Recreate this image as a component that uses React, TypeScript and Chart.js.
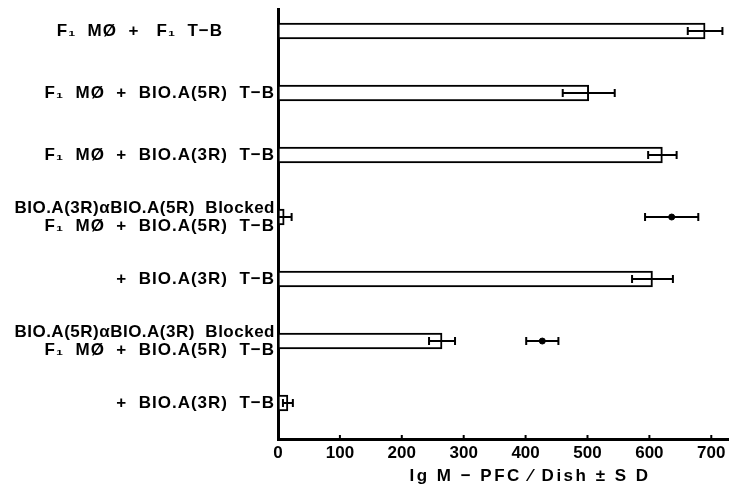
import React, { useEffect, useRef } from "react";
import { Chart, registerables } from "chart.js";
Chart.register(...registerables);

const rowLabels: string[][] = [
  ["F₁  MØ  +   F₁  T−B"],
  ["F₁  MØ  +  BIO.A(5R)  T−B"],
  ["F₁  MØ  +  BIO.A(3R)  T−B"],
  ["BIO.A(3R)αBIO.A(5R)  Blocked", "F₁  MØ  +  BIO.A(5R)  T−B"],
  ["+  BIO.A(3R)  T−B"],
  ["BIO.A(5R)αBIO.A(3R)  Blocked", "F₁  MØ  +  BIO.A(5R)  T−B"],
  ["+  BIO.A(3R)  T−B"],
];
const pfcMeans = [690, 502, 621, 10, 605, 265, 16];
const pfcSD = [28, 42, 23, 12, 33, 21, 8];
const blockedRows = [3, 5];
const blockedMeans = [636, 427];
const blockedSD = [43, 26];
const xTickValues = [0, 100, 200, 300, 400, 500, 600, 700];
const xTitle = "Ig M − PFC ⁄ Dish ± S D";

const FAMILY = "'Liberation Sans', Arial, sans-serif";
const FONT = `bold 17px ${FAMILY}`;

const overlay = {
  id: "overlay",
  afterDatasetsDraw(chart: any) {
    const { ctx, chartArea, scales } = chart;
    const xs = scales.x;
    const ys = scales.y;
    ctx.save();
    ctx.strokeStyle = "#000";
    ctx.fillStyle = "#000";
    ctx.lineWidth = 2;
    const errBar = (mean: number, sd: number, row: number) => {
      const y = ys.getPixelForValue(row);
      const x1 = xs.getPixelForValue(Math.max(0, mean - sd));
      const x2 = xs.getPixelForValue(mean + sd);
      ctx.beginPath();
      ctx.moveTo(x1, y);
      ctx.lineTo(x2, y);
      ctx.moveTo(x1, y - 4);
      ctx.lineTo(x1, y + 4);
      ctx.moveTo(x2, y - 4);
      ctx.lineTo(x2, y + 4);
      ctx.stroke();
    };
    pfcMeans.forEach((m, i) => errBar(m, pfcSD[i], i));
    blockedRows.forEach((r, k) => errBar(blockedMeans[k], blockedSD[k], r));

    // inside tick marks on x axis
    xs.ticks.forEach((t: any) => {
      if (t.value === 0) return;
      const x = xs.getPixelForValue(t.value);
      ctx.beginPath();
      ctx.moveTo(x, chartArea.bottom);
      ctx.lineTo(x, chartArea.bottom - 4);
      ctx.stroke();
    });

    // row labels
    ctx.font = FONT;
    ctx.textAlign = "right";
    ctx.textBaseline = "middle";
    rowLabels.forEach((lines, i) => {
      const yc = ys.getPixelForValue(i);
      const right = chartArea.left - (i === 0 ? 55 : 3);
      const lh = 18;
      lines.forEach((ln, j) => {
        const y = yc + (j - (lines.length - 1) / 2) * lh;
        (ctx as any).letterSpacing = lines.length > 1 && j === 0 ? "0.5px" : "1px";
        ctx.fillText(ln, right, y);
      });
    });

    // axis title
    ctx.textAlign = "center";
    (ctx as any).letterSpacing = "2.5px";
    ctx.fillText(xTitle, 530, 476);
    ctx.restore();
  },
};

export default function App() {
  const ref = useRef<HTMLCanvasElement>(null);
  useEffect(() => {
    if (!ref.current) return;
    const chart = new Chart(ref.current, {
      type: "bar",
      data: {
        datasets: [
          {
            type: "bar",
            data: pfcMeans.map((v, i) => ({ x: v, y: i })) as any,
            backgroundColor: "#fff",
            borderColor: "#000",
            borderWidth: 2,
            borderSkipped: false,
            barThickness: 16,
          } as any,
          {
            type: "scatter",
            data: blockedRows.map((r, k) => ({ x: blockedMeans[k], y: r })),
            pointRadius: 3,
            backgroundColor: "#000",
            borderColor: "#000",
          } as any,
        ],
      },
      options: {
        indexAxis: "y",
        animation: false,
        responsive: false,
        layout: { padding: { top: 9, left: 0, right: 0, bottom: 0 } },
        plugins: { legend: { display: false }, tooltip: { enabled: false } },
        scales: {
          x: {
            type: "linear",
            position: "bottom",
            min: 0,
            max: 727,
            bounds: "data",
            offset: false,
            grid: { display: false, drawTicks: false },
            border: { display: true, color: "#000", width: 3 },
            ticks: {
              color: "#000",
              padding: 4,
              maxRotation: 0,
              autoSkip: false,
              font: { family: FAMILY, size: 17, weight: "bold" },
            },
            afterBuildTicks: (s: any) => {
              s.ticks = xTickValues.map((v) => ({ value: v }));
            },
            afterFit: (s: any) => {
              s.height = 52;
            },
          },
          y: {
            type: "linear",
            min: -0.355,
            max: 6.58,
            bounds: "data",
            offset: false,
            reverse: true,
            grid: { display: false, drawTicks: false },
            border: { display: true, color: "#000", width: 3 },
            ticks: { display: false },
            afterBuildTicks: (s: any) => {
              s.ticks = rowLabels.map((_, i) => ({ value: i }));
            },
            afterFit: (s: any) => {
              s.width = 278;
            },
          },
        },
      } as any,
      plugins: [overlay],
    });
    return () => chart.destroy();
  }, []);
  return (
    <div style={{ position: "fixed", left: 0, top: 0, width: 733, height: 491, background: "#fff" }}>
      <canvas ref={ref} width={733} height={491} style={{ display: "block" }} />
    </div>
  );
}
